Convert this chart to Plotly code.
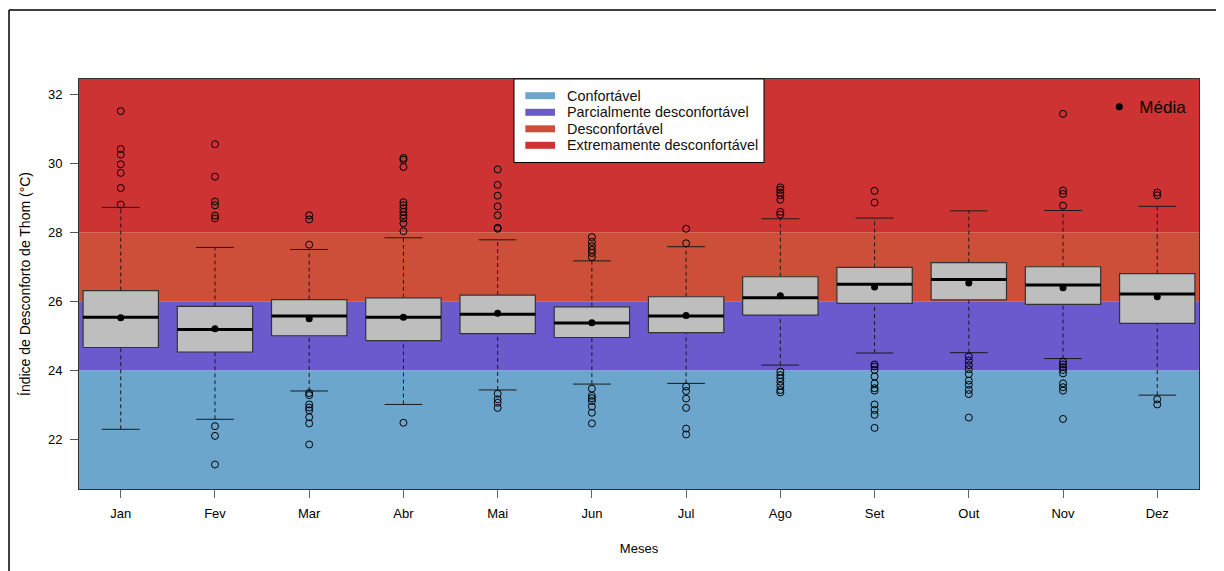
import plotly.graph_objects as go

months = ["Jan", "Fev", "Mar", "Abr", "Mai", "Jun", "Jul", "Ago", "Set", "Out", "Nov", "Dez"]
q1 = [24.66, 24.53, 25.00, 24.86, 25.06, 24.95, 25.09, 25.60, 25.94, 26.04, 25.91, 25.36]
median = [25.54, 25.18, 25.57, 25.54, 25.62, 25.37, 25.57, 26.10, 26.49, 26.63, 26.47, 26.21]
q3 = [26.31, 25.85, 26.05, 26.10, 26.18, 25.84, 26.13, 26.71, 26.98, 27.12, 27.00, 26.80]
whisker_low = [22.29, 22.58, 23.40, 23.01, 23.43, 23.60, 23.62, 24.15, 24.50, 24.51, 24.34, 23.28]
whisker_high = [28.72, 27.56, 27.50, 27.84, 27.78, 27.17, 27.58, 28.39, 28.41, 28.62, 28.63, 28.75]
mean = [25.52, 25.20, 25.49, 25.54, 25.65, 25.38, 25.59, 26.16, 26.41, 26.53, 26.39, 26.13]
outliers = [
    [31.51, 30.41, 30.25, 29.97, 29.72, 29.28, 28.80],
    [30.55, 29.61, 28.89, 28.78, 28.48, 28.40, 22.38, 22.10, 21.27],
    [28.49, 28.37, 27.64, 23.34, 23.28, 23.01, 22.92, 22.84, 22.64, 22.46, 21.85],
    [30.15, 30.10, 29.89, 28.87, 28.78, 28.69, 28.59, 28.49, 28.40, 28.26, 28.03, 22.48],
    [29.82, 29.37, 29.06, 28.75, 28.49, 28.13, 28.10, 23.32, 23.16, 23.06, 22.91],
    [27.86, 27.72, 27.60, 27.49, 27.40, 27.28, 23.47, 23.26, 23.19, 23.11, 22.95, 22.77, 22.46],
    [28.10, 27.68, 23.53, 23.40, 23.18, 22.91, 22.31, 22.14],
    [29.30, 29.23, 29.15, 29.07, 28.94, 28.59, 28.51, 23.96, 23.86, 23.77, 23.67, 23.55, 23.43, 23.36],
    [29.20, 28.86, 24.17, 24.11, 24.01, 23.82, 23.62, 23.48, 23.41, 23.01, 22.85, 22.71, 22.33],
    [24.40, 24.28, 24.15, 24.03, 23.89, 23.70, 23.58, 23.43, 23.31, 22.63],
    [31.43, 29.21, 29.11, 28.77, 24.25, 24.17, 24.09, 24.01, 23.91, 23.62, 23.51, 23.41, 22.59],
    [29.15, 29.07, 23.16, 23.01],
]
band_names = ["Confortável", "Parcialmente desconfortável", "Desconfortável", "Extremamente desconfortável"]
band_edges = [20.56, 24, 26, 28, 32.44]
band_colors = ["#6CA6CD", "#6A5ACD", "#CD4F39", "#CD3333"]
y_ticks = [22, 24, 26, 28, 30, 32]

FONT = "Liberation Sans, Arial, Helvetica, sans-serif"
pos = list(range(1, len(months) + 1))
half_box = 0.4
half_cap = 0.2

fig = go.Figure()

# background comfort bands
for i in range(4):
    fig.add_shape(type="rect", xref="paper", yref="y", x0=0, x1=1,
                  y0=band_edges[i], y1=band_edges[i + 1],
                  fillcolor=band_colors[i], line=dict(width=0), layer="below")

# whiskers (dashed)
wx, wy = [], []
for p, a, b, c, d in zip(pos, whisker_low, q1, q3, whisker_high):
    wx += [p, p, None, p, p, None]
    wy += [a, b, None, c, d, None]
fig.add_trace(go.Scatter(x=wx, y=wy, mode="lines", line=dict(color="#1a1a1a", width=1, dash="4px,3px"),
                         showlegend=False, hoverinfo="skip"))
# caps
cx, cy = [], []
for p, a, d in zip(pos, whisker_low, whisker_high):
    cx += [p - half_cap, p + half_cap, None, p - half_cap, p + half_cap, None]
    cy += [a, a, None, d, d, None]
fig.add_trace(go.Scatter(x=cx, y=cy, mode="lines", line=dict(color="#1a1a1a", width=1),
                         showlegend=False, hoverinfo="skip"))
# boxes
for p, b, c in zip(pos, q1, q3):
    fig.add_trace(go.Scatter(x=[p - half_box, p + half_box, p + half_box, p - half_box, p - half_box],
                             y=[b, b, c, c, b], mode="lines", fill="toself", fillcolor="#BEBEBE",
                             line=dict(color="#333333", width=1.2), showlegend=False, hoverinfo="skip"))
# medians
mx, my = [], []
for p, m in zip(pos, median):
    mx += [p - half_box, p + half_box, None]
    my += [m, m, None]
fig.add_trace(go.Scatter(x=mx, y=my, mode="lines", line=dict(color="black", width=3),
                         showlegend=False, hoverinfo="skip"))
# outliers
ox, oy = [], []
for p, outs in zip(pos, outliers):
    ox += [p] * len(outs)
    oy += outs
fig.add_trace(go.Scatter(x=ox, y=oy, mode="markers",
                         marker=dict(symbol="circle-open", size=7, color="black", line=dict(width=1)),
                         showlegend=False, hoverinfo="skip"))
# means
fig.add_trace(go.Scatter(x=pos, y=mean, mode="markers", name="Média",
                         marker=dict(symbol="circle", size=7, color="black"),
                         legend="legend2"))

# manual legend for the comfort bands
fig.add_shape(type="rect", xref="paper", yref="paper", x0=0.3884, x1=0.6116, y0=0.7963, y1=1.0,
              fillcolor="white", line=dict(color="black", width=1))
row_y = [0.9593, 0.9188, 0.8785, 0.8383]
for name, col, ry in zip(band_names, band_colors, row_y):
    fig.add_shape(type="line", xref="paper", yref="paper", x0=0.3985, x1=0.4250, y0=ry, y1=ry,
                  line=dict(color=col, width=7))
    fig.add_annotation(xref="paper", yref="paper", x=0.4335, y=ry, text=name, showarrow=False,
                       xanchor="left", yanchor="middle", font=dict(size=14.4, color="#111111"))

# outer frame
fig.add_shape(type="line", xref="paper", yref="paper", x0=-0.0625, x1=1.2, y0=1.168, y1=1.168,
              line=dict(color="black", width=1.5))
fig.add_shape(type="line", xref="paper", yref="paper", x0=-0.0625, x1=-0.0625, y0=1.168, y1=-0.5,
              line=dict(color="black", width=1.5))

fig.update_layout(
    width=1216, height=563,
    margin=dict(l=71, r=25, t=71, b=82),
    paper_bgcolor="white", plot_bgcolor="white",
    font=dict(family=FONT, size=13, color="black"),
    legend2=dict(x=0.911, y=0.975, xanchor="left", yanchor="top", bgcolor="rgba(0,0,0,0)",
                 borderwidth=0, font=dict(size=17)),
    xaxis=dict(range=[0.557, 12.443], tickmode="array", tickvals=pos, ticktext=months,
               ticks="outside", ticklen=8, tickcolor="#666666", showgrid=False, zeroline=False,
               showline=True, mirror=True, linecolor="#333333", linewidth=1, ticklabelstandoff=4,
               title=dict(text="Meses", standoff=24, font=dict(size=13))),
    yaxis=dict(range=[20.56, 32.44], tickmode="array", tickvals=y_ticks,
               ticks="outside", ticklen=8, tickcolor="#555555", showgrid=False, zeroline=False,
               showline=True, mirror=True, linecolor="#333333", linewidth=1, ticklabelstandoff=5,
               title=dict(text="Índice de Desconforto de Thom (°C)", standoff=14, font=dict(size=14))),
)

fig.write_html("out.html")
